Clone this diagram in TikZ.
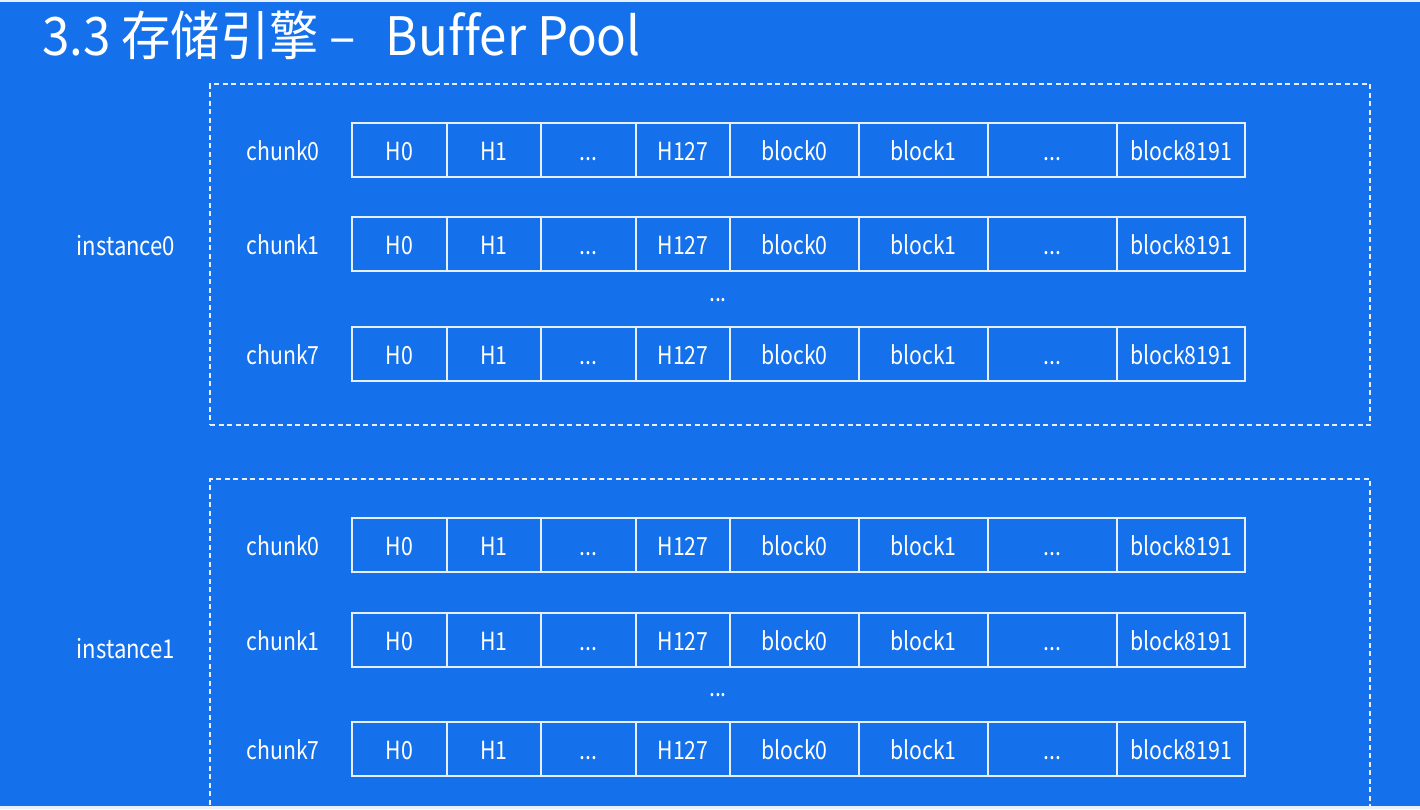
\documentclass[tikz,border=0pt]{standalone}
\usepackage{fontspec}
\setmainfont{Noto Sans CJK SC}[FakeStretch=0.85, Ligatures=NoCommon]
\newfontfamily\titlefont{Noto Sans CJK SC}[FakeStretch=0.93, Ligatures=NoCommon]
\definecolor{bg}{HTML}{1470EB}
\definecolor{ln}{HTML}{E8EFFC}
\definecolor{edge}{HTML}{E9F1FD}
\newcommand\mydots{...}
\begin{document}
\begin{tikzpicture}[x=1pt,y=-1pt,
  cell/.style={draw=ln, line width=1.1pt, minimum height=54pt, inner sep=0pt, text=white, text height=21pt, text depth=0pt, font=\fontsize{25}{28}\selectfont},
  lbl/.style={text=white, inner sep=0pt, text height=21pt, text depth=0pt, font=\fontsize{25}{28}\selectfont},
  ilbl/.style={text=white, inner sep=0pt, text height=21pt, text depth=0pt, font=\fontsize{26}{30}\selectfont},
  inst/.style={draw=ln, line width=1.1pt, dash pattern=on 5pt off 3.5pt, inner sep=0pt},
  ttl/.style={text=white, inner sep=0pt, anchor=base west, font=\titlefont\fontsize{53}{58}\selectfont}]
\useasboundingbox (0,0) rectangle (1420,809);
\fill[bg] (0,0) rectangle (1420,809);
\fill[edge] (0,0) rectangle (1420,1.5);
\fill[edge] (0,806) rectangle (1420,809);
\clip (0,1.5) rectangle (1420,806);
\node[ttl] (title) at (42,55) {3.3 存储引擎 –\hspace{0.35em} Buffer Pool};
\node[inst, minimum width=1160pt, minimum height=341pt] (box0) at (790,254.5) {};
\node[inst, minimum width=1160pt, minimum height=360pt] (box1) at (790,659) {};
\node[ilbl] (inst0) at (126,245) {instance0};
\node[ilbl] (inst1) at (126,648) {instance1};
\node[lbl, anchor=base] (gap0) at (718,301) {\mydots};
\node[lbl, anchor=base] (gap1) at (718,696) {\mydots};
\foreach \r/\yc/\lab in {a0/150/chunk0, a1/244/chunk1, a7/354/chunk7, b0/545/chunk0, b1/640/chunk1, b7/749/chunk7}{
  \node[lbl] (\r-name) at (283,\yc) {\lab};
  \foreach \i/\xa/\xb/\t in {1/352/447/H0, 2/447/541/H1, 3/541/636/\mydots, 4/636/730/H127, 5/730/859/block0, 6/859/988/block1, 7/988/1117/\mydots, 8/1117/1245/block8191}{
    \node[cell, minimum width={\xb-\xa}] (\r-\i) at ({(\xa+\xb)/2},\yc) {\t};
  }
}
\end{tikzpicture}
\end{document}
